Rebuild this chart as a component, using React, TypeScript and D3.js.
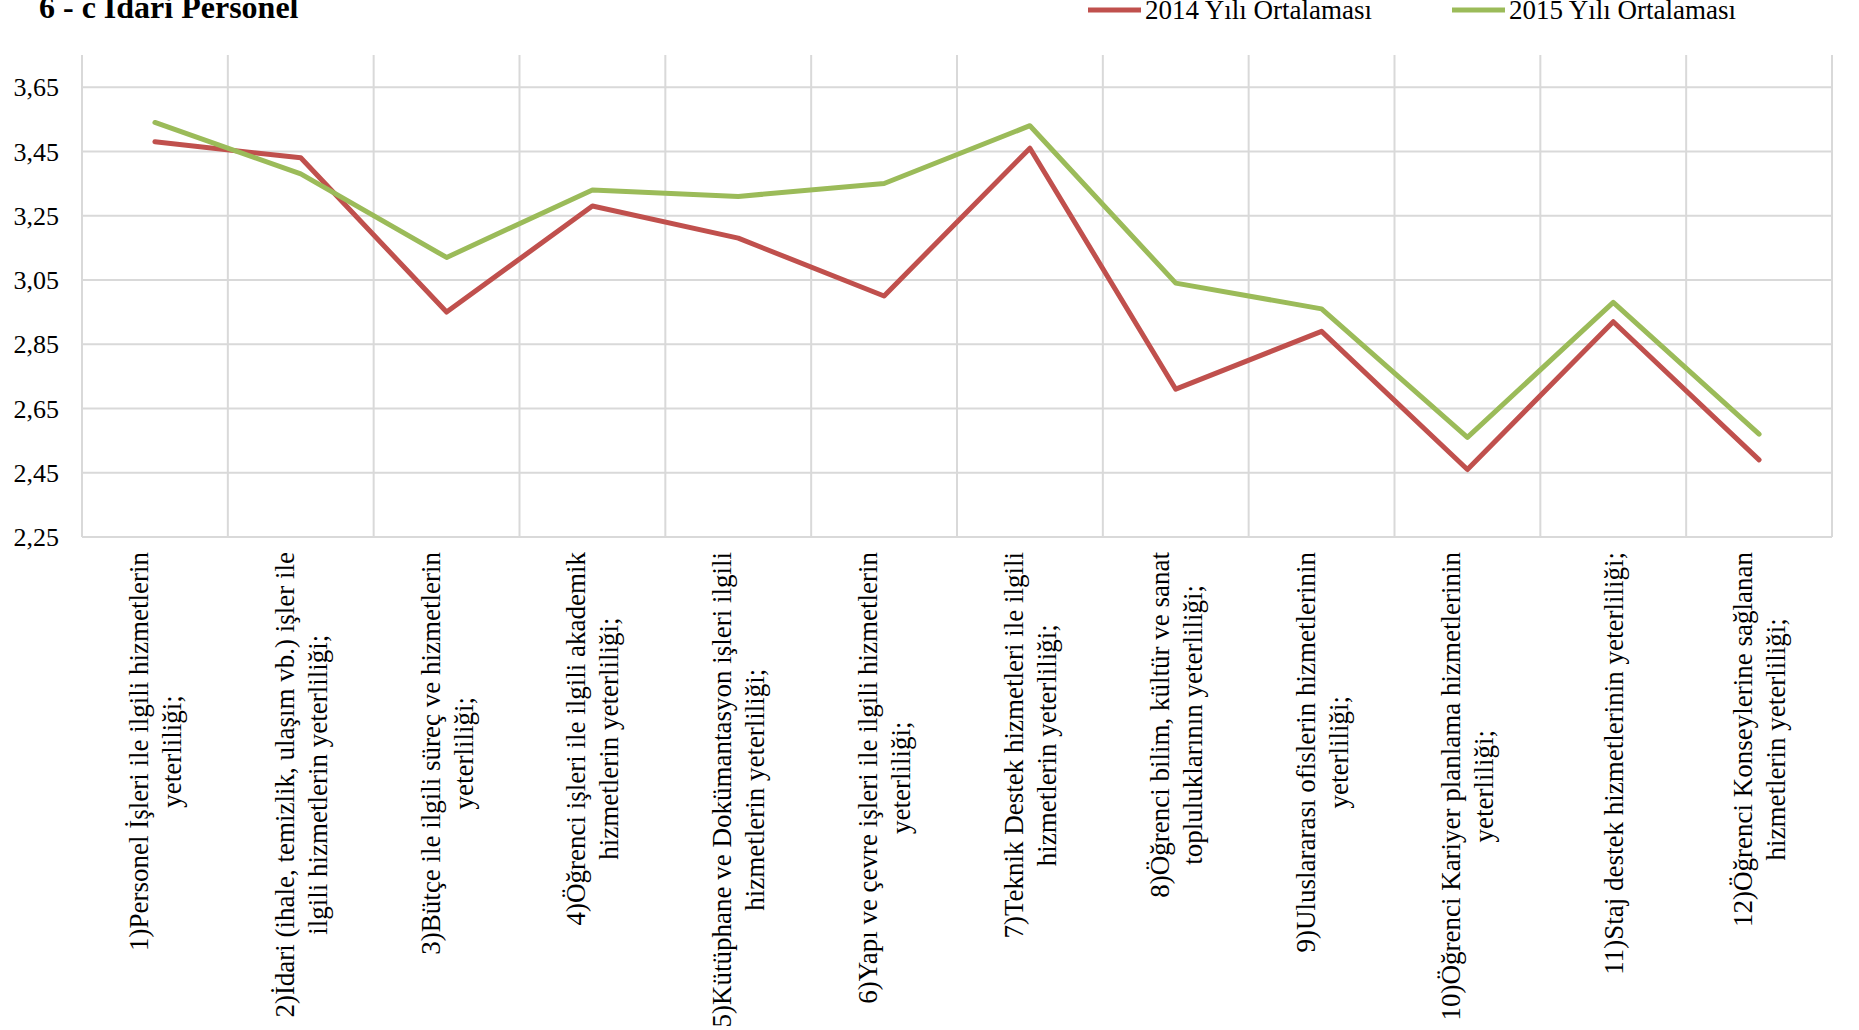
import React, { useRef, useEffect } from 'react';
import * as d3 from 'd3';

// kategori etiketleri (satır kırılımları grafikteki gibi)
const categories: string[][] = [
  ['1)Personel İşleri ile ilgili hizmetlerin', 'yeterliliği;'],
  ['2)İdari (ihale, temizlik, ulaşım vb.) işler ile', 'ilgili hizmetlerin yeterliliği;'],
  ['3)Bütçe ile ilgili süreç ve hizmetlerin', 'yeterliliği;'],
  ['4)Öğrenci işleri ile ilgili akademik', 'hizmetlerin yeterliliği;'],
  ['5)Kütüphane ve Dokümantasyon işleri ilgili', 'hizmetlerin yeterliliği;'],
  ['6)Yapı ve çevre işleri ile ilgili hizmetlerin', 'yeterliliği;'],
  ['7)Teknik Destek hizmetleri ile ilgili', 'hizmetlerin yeterliliği;'],
  ['8)Öğrenci bilim, kültür ve sanat', 'topluluklarının yeterliliği;'],
  ['9)Uluslararası ofislerin hizmetlerinin', 'yeterliliği;'],
  ['10)Öğrenci Kariyer planlama hizmetlerinin', 'yeterliliği;'],
  ['11)Staj destek hizmetlerinin yeterliliği;'],
  ['12)Öğrenci Konseylerine sağlanan', 'hizmetlerin yeterliliği;'],
];

const values2014 = [3.48, 3.43, 2.95, 3.28, 3.18, 3.0, 3.46, 2.71, 2.89, 2.46, 2.92, 2.49];
const values2015 = [3.54, 3.38, 3.12, 3.33, 3.31, 3.35, 3.53, 3.04, 2.96, 2.56, 2.98, 2.57];

const yTicks = [2.25, 2.45, 2.65, 2.85, 3.05, 3.25, 3.45, 3.65];
const seriesNames = ['2014 Yılı Ortalaması', '2015 Yılı Ortalaması'];
const seriesColors = ['#c0504d', '#9bbb59'];

const title = '6 - c İdari Personel';

function App() {
  const svgRef = useRef<SVGSVGElement>(null);

  useEffect(() => {
    const W = 1859;
    const H = 1030;
    const left = 82;
    const right = 1832;
    const top = 55;
    const bottom = 537;
    const font = '"Liberation Serif", "Times New Roman", serif';

    const svg = d3.select(svgRef.current).attr('width', W).attr('height', H);
    svg.selectAll('*').remove();
    svg.append('rect').attr('width', W).attr('height', H).attr('fill', 'white');

    const n = categories.length;
    const xBand = d3.scaleLinear().domain([0, n]).range([left, right]);
    const xCenter = (i: number) => xBand(i + 0.5);
    const yScale = d3.scaleLinear().domain([2.25, 3.75]).range([bottom, top]);

    const grid = svg.append('g');
    // yatay çizgiler
    grid
      .selectAll('line.h')
      .data(yTicks)
      .join('line')
      .attr('x1', left)
      .attr('x2', right)
      .attr('y1', (d) => yScale(d))
      .attr('y2', (d) => yScale(d))
      .attr('stroke', '#d9d9d9')
      .attr('stroke-width', 2);
    // dikey çizgiler
    grid
      .selectAll('line.v')
      .data(d3.range(n + 1))
      .enter()
      .append('line')
      .attr('x1', (d) => xBand(d))
      .attr('x2', (d) => xBand(d))
      .attr('y1', top)
      .attr('y2', bottom)
      .attr('stroke', '#d9d9d9')
      .attr('stroke-width', 2);

    // y etiketleri
    svg
      .append('g')
      .selectAll('text')
      .data(yTicks)
      .join('text')
      .attr('x', 59)
      .attr('y', (d) => yScale(d))
      .attr('dy', '0.35em')
      .attr('text-anchor', 'end')
      .attr('font-family', font)
      .attr('font-size', 26)
      .attr('fill', '#000')
      .text((d) => d3.format('.2f')(d).replace('.', ','));

    // çizgiler
    const line = d3
      .line<number>()
      .x((d, i) => xCenter(i))
      .y((d) => yScale(d));
    [values2014, values2015].forEach((vals, k) => {
      svg
        .append('path')
        .datum(vals)
        .attr('d', line)
        .attr('fill', 'none')
        .attr('stroke', seriesColors[k])
        .attr('stroke-width', 5)
        .attr('stroke-linejoin', 'round')
        .attr('stroke-linecap', 'round');
    });

    // x etiketleri (döndürülmüş)
    const lineH = 33;
    categories.forEach((lines, i) => {
      const g = svg
        .append('g')
        .attr('transform', `translate(${xCenter(i)},552) rotate(-90)`);
      const texts = lines.map((s, j) =>
        g
          .append('text')
          .attr('font-family', font)
          .attr('font-size', 27)
          .attr('fill', '#000')
          .attr('text-anchor', 'middle')
          .attr('y', (j - (lines.length - 1) / 2) * lineH)
          .attr('dy', '0.35em')
          .text(s)
      );
      const maxLen = d3.max(texts, (t) => (t.node() as SVGTextElement).getComputedTextLength()) || 0;
      texts.forEach((t) => t.attr('x', -maxLen / 2));
    });

    // başlık
    svg
      .append('text')
      .attr('x', 39)
      .attr('y', 18)
      .attr('font-family', font)
      .attr('font-size', 32)
      .attr('font-weight', 'bold')
      .text(title);

    // açıklama
    const legendX = [1088, 1452];
    seriesNames.forEach((name, k) => {
      svg
        .append('line')
        .attr('x1', legendX[k])
        .attr('x2', legendX[k] + 53)
        .attr('y1', 10)
        .attr('y2', 10)
        .attr('stroke', seriesColors[k])
        .attr('stroke-width', 5);
      svg
        .append('text')
        .attr('x', legendX[k] + 57)
        .attr('y', 19)
        .attr('font-family', font)
        .attr('font-size', 27)
        .text(name);
    });
  }, []);

  return (
    <div style={{ position: 'absolute', left: 0, top: 0 }}>
      <svg ref={svgRef}></svg>
    </div>
  );
}

export default App;
